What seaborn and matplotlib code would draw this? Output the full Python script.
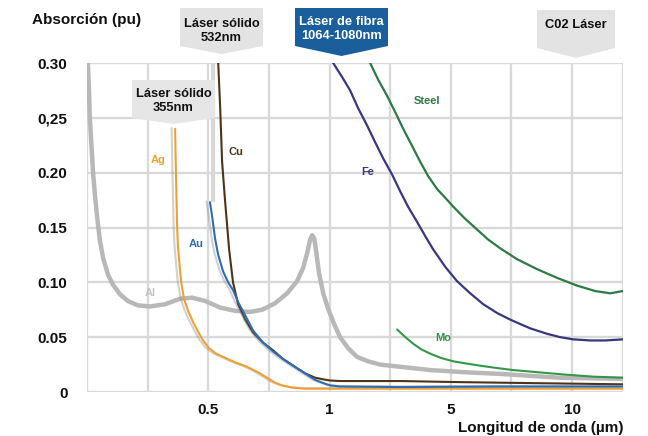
import matplotlib
matplotlib.use("Agg")
import matplotlib.pyplot as plt
import matplotlib.patheffects as pe
from matplotlib.patches import Polygon
import numpy as np
import seaborn as sns

# absorption readings (pu) against wavelength (um), one pair of lists per metal
AL_WL = [0.202, 0.205, 0.207, 0.211, 0.215, 0.220, 0.225, 0.232, 0.240, 0.252,
         0.264, 0.282, 0.301, 0.326, 0.356, 0.393, 0.430, 0.460, 0.492, 0.549,
         0.611, 0.672, 0.722, 0.776, 0.825, 0.866, 0.891, 0.908, 0.920, 0.928,
         0.937, 0.945, 0.957, 0.974, 0.994, 1.15, 1.35, 1.61, 1.91, 2.27, 2.67,
         3.33, 4.32, 5.59, 7.04, 9.51, 12.1]
AL_ABS = [0.300, 0.275, 0.250, 0.225, 0.200, 0.178, 0.160, 0.138, 0.122, 0.107,
          0.098, 0.089, 0.083, 0.079, 0.078, 0.080, 0.085, 0.086, 0.083, 0.077,
          0.074, 0.073, 0.075, 0.081, 0.090, 0.101, 0.113, 0.127, 0.139, 0.143,
          0.140, 0.128, 0.108, 0.090, 0.076, 0.062, 0.050, 0.040, 0.032, 0.028,
          0.025, 0.023, 0.020, 0.018, 0.0165, 0.013, 0.012]

AG_WL = [0.418, 0.419, 0.420, 0.4215, 0.423, 0.425, 0.428, 0.433, 0.440, 0.450,
         0.462, 0.475, 0.487, 0.503, 0.532, 0.561, 0.611, 0.660, 0.705, 0.743,
         0.771, 0.804, 0.846, 0.899, 1.68, 4.98, 12.1]
AG_ABS = [0.240, 0.220, 0.200, 0.175, 0.150, 0.133, 0.120, 0.100, 0.085, 0.074,
          0.064, 0.055, 0.047, 0.040, 0.035, 0.032, 0.027, 0.023, 0.018, 0.013,
          0.009, 0.006, 0.004, 0.003, 0.003, 0.003, 0.003]

CU_WL = [0.541, 0.549, 0.557, 0.569, 0.586, 0.602, 0.623, 0.652, 0.685, 0.726,
         0.767, 0.809, 0.850, 0.899, 0.941, 0.982, 1.02, 1.35, 3.33, 5.39, 8.69,
         12.1]
CU_ABS = [0.300, 0.260, 0.210, 0.175, 0.130, 0.100, 0.080, 0.066, 0.054, 0.045,
          0.038, 0.030, 0.024, 0.017, 0.013, 0.0112, 0.0105, 0.010, 0.010, 0.009,
          0.008, 0.007]

AU_WL = [0.507, 0.516, 0.528, 0.541, 0.561, 0.582, 0.602, 0.623, 0.652, 0.685,
         0.726, 0.767, 0.809, 0.850, 0.899, 0.941, 0.982, 1.02, 1.35, 3.33, 7.04,
         12.1]
AU_ABS = [0.173, 0.160, 0.140, 0.125, 0.110, 0.100, 0.093, 0.082, 0.070, 0.056,
          0.045, 0.037, 0.030, 0.024, 0.017, 0.011, 0.0075, 0.006, 0.005, 0.0045,
          0.005, 0.005]

FE_WL = [1.12, 1.42, 1.68, 1.94, 2.24, 2.50, 2.77, 3.07, 3.33, 3.59, 3.89, 4.16,
         4.42, 4.82, 5.26, 5.80, 6.34, 6.91, 7.45, 7.86, 8.28, 8.98, 9.51, 10.05,
         10.75, 11.37, 12.1]
FE_ABS = [0.300, 0.287, 0.275, 0.259, 0.243, 0.228, 0.213, 0.198, 0.183, 0.169,
          0.155, 0.142, 0.130, 0.114, 0.101, 0.090, 0.080, 0.072, 0.066, 0.062,
          0.058, 0.053, 0.050, 0.048, 0.047, 0.047, 0.048]

STEEL_WL = [2.34, 2.60, 2.90, 3.17, 3.43, 3.73, 3.99, 4.25, 4.55, 4.82, 5.10,
            5.59, 6.09, 6.54, 7.04, 7.74, 8.56, 9.39, 10.21, 10.96, 11.58, 12.07]
STEEL_ABS = [0.300, 0.285, 0.270, 0.255, 0.240, 0.224, 0.210, 0.197, 0.185,
             0.177, 0.169, 0.158, 0.148, 0.139, 0.131, 0.121, 0.112, 0.104,
             0.097, 0.092, 0.090, 0.092]

MO_WL = [3.23, 3.50, 3.76, 4.02, 4.32, 4.68, 5.10, 5.63, 6.21, 6.86, 7.57, 8.60,
         9.64, 10.87, 12.1]
MO_ABS = [0.057, 0.050, 0.044, 0.039, 0.035, 0.031, 0.028, 0.026, 0.024, 0.022,
          0.020, 0.018, 0.016, 0.014, 0.013]

X_TICKS = [0.2, 0.35, 0.5, 0.75, 1, 3, 5, 7.5, 10, 12.1]
X_LABELS = ["", "", "0.5", "", "1", "", "5", "", "10", ""]
Y_TICKS = [0, 0.05, 0.10, 0.15, 0.20, 0.25, 0.30]
Y_LABELS = ["0", "0.05", "0.10", "0.15", "0.20", "0,25", "0.30"]

# the source chart uses an uneven, piecewise wavelength axis
SCALE_WL = [0.05, 0.2, 0.5, 1, 5, 10, 30]
SCALE_POS = [-1, 0, 2, 4, 6, 8, 16]


def forward(v):
    return np.interp(v, SCALE_WL, SCALE_POS)


def inverse(v):
    return np.interp(v, SCALE_POS, SCALE_WL)


sns.set_theme(style="white")
plt.rcParams["font.family"] = ["Liberation Sans", "DejaVu Sans"]
plt.rcParams["font.weight"] = "bold"

W, H = 648, 436
fig = plt.figure(figsize=(W / 100, H / 100), dpi=100)
ax = fig.add_axes([87 / W, 1 - 392 / H, (623 - 87) / W, (392 - 63) / H])

shadow = [pe.SimpleLineShadow(offset=(-2.5, 0.5), shadow_color="#8c8c8c", alpha=0.4),
          pe.Normal()]

# 532 nm laser marker band
ax.vlines(0.52, 0.173, 0.30, color="#d8d8d8", lw=3, zorder=1)

series = [
    (AL_WL, AL_ABS, "#b8b8b8", 3.2, None),
    (AG_WL, AG_ABS, "#f0a030", 1.5, shadow),
    (CU_WL, CU_ABS, "#4e3317", 1.5, None),
    (AU_WL, AU_ABS, "#2f6cb5", 1.5, shadow),
    (FE_WL, FE_ABS, "#38387e", 1.6, None),
    (STEEL_WL, STEEL_ABS, "#2d7a45", 1.6, None),
    (MO_WL, MO_ABS, "#35964a", 1.5, None),
]
for wl, ab, col, lw, fx in series:
    sns.lineplot(x=wl, y=ab, ax=ax, color=col, lw=lw, sort=False,
                 estimator=None, zorder=3, solid_joinstyle="round",
                 solid_capstyle="round")
    if fx:
        ax.lines[-1].set_path_effects(fx)

ax.set_xscale("function", functions=(forward, inverse))
ax.set_xlim(0.2, 12.1)
ax.set_ylim(0, 0.30)
ax.set_xticks(X_TICKS, X_LABELS)
ax.set_yticks(Y_TICKS, Y_LABELS)
ax.tick_params(axis="both", length=0, labelsize=11, colors="#111111")
ax.tick_params(axis="y", pad=14)
ax.tick_params(axis="x", pad=8)
ax.grid(True, color="#d9d9d9", lw=1.7)
for s in ax.spines.values():
    s.set_visible(False)
ax.set_xlabel("")
ax.set_ylabel("")

# curve labels
lab_kw = dict(fontsize=8, fontweight="bold", ha="center", va="center", zorder=4)
ax.text(0.376, 0.2115, "Ag", color="#f0a030", **lab_kw)
ax.text(0.615, 0.219, "Cu", color="#4e3317", **lab_kw)
ax.text(0.47, 0.135, "Au", color="#2f6cb5", **lab_kw)
ax.text(0.356, 0.090, "Al", color="#c4c4c4", **lab_kw)
ax.text(2.27, 0.2005, "Fe", color="#38387e", **lab_kw)
ax.text(4.22, 0.265, "Steel", color="#2d7a45", **lab_kw)
ax.text(4.75, 0.049, "Mo", color="#35964a", **lab_kw)


def px(x, y):
    return (x / W, 1 - y / H)


def tag(x0, x1, y0, y1, tip, fc, text, tc, ty):
    mid = (x0 + x1) / 2
    pts = [px(x0, y0), px(x1, y0), px(x1, y1), px(mid, tip), px(x0, y1)]
    fig.add_artist(Polygon(pts, closed=True, transform=fig.transFigure,
                           facecolor=fc, edgecolor="none", zorder=2))
    fig.text(mid / W, 1 - ty / H, text, color=tc, fontsize=9.3,
             fontweight="bold", ha="center", va="center", linespacing=1.15,
             zorder=3)


tag(180, 263, 8, 46, 54, "#e3e3e3", "Láser sólido\n532nm", "#111111", 31)
tag(295, 388, 8, 46, 56, "#1a5f9c", "Láser de fibra\n1064-1080nm", "white", 29)
tag(537, 615, 10, 48, 58, "#e3e3e3", "C02 Láser", "#111111", 25)
tag(132, 215, 80, 118, 124, "#e6e6e6", "Láser sólido\n355nm", "#111111", 101)

fig.text(32 / W, 1 - 20 / H, "Absorción (pu)", fontsize=11, fontweight="bold",
         ha="left", va="center", color="#111111")
fig.text(624 / W, 1 - 428 / H, "Longitud de onda (µm)", fontsize=11,
         fontweight="bold", ha="right", va="center", color="#111111")

fig.savefig("out.png", dpi=100)
